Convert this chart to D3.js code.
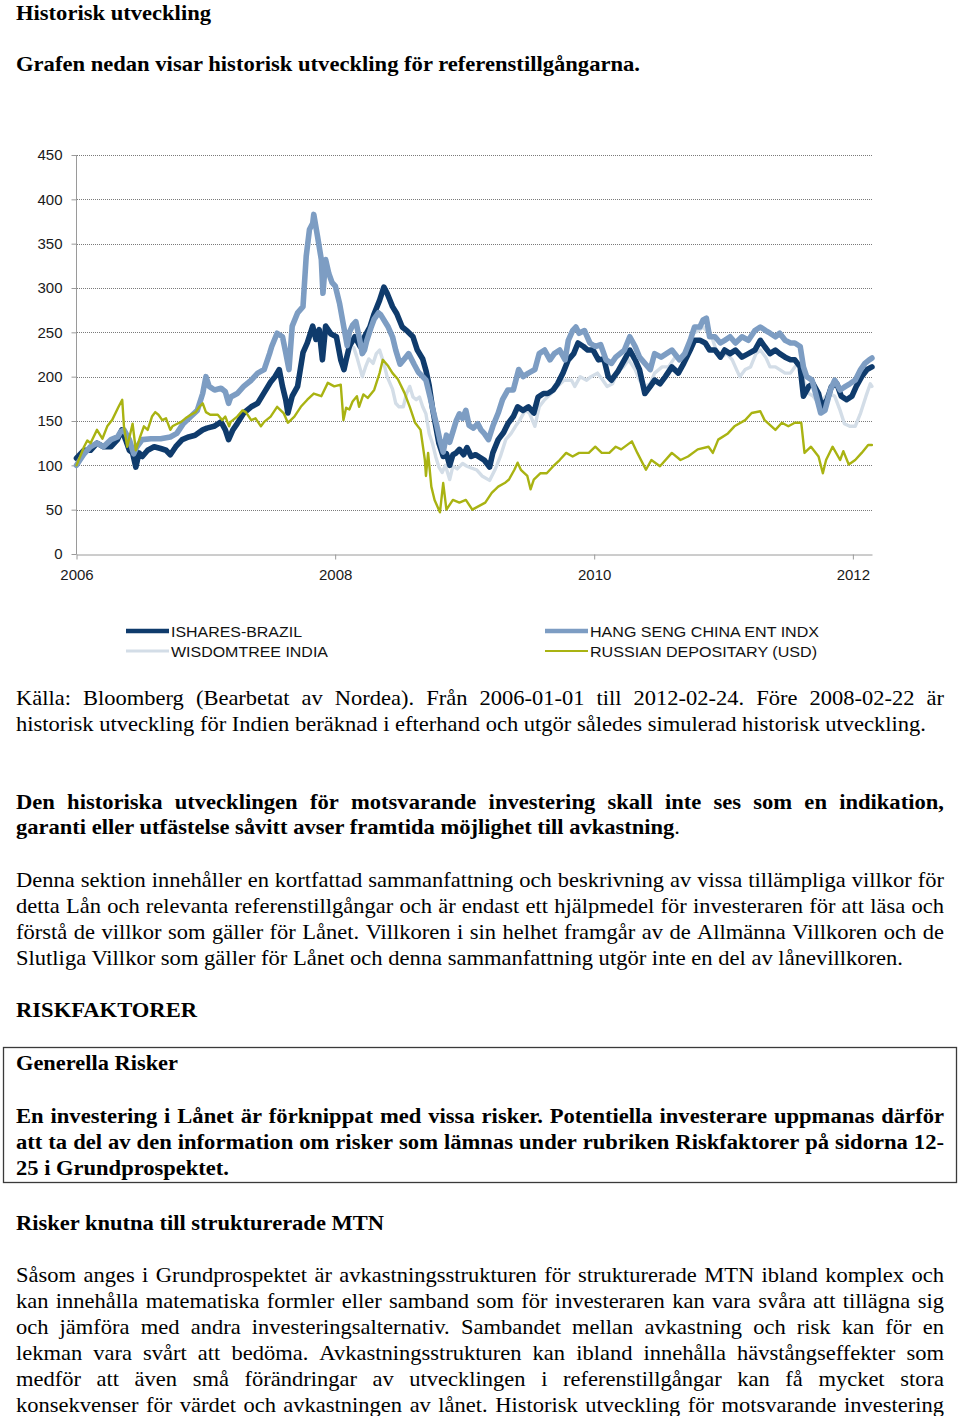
<!DOCTYPE html>
<html><head><meta charset="utf-8">
<script src="https://cdn.jsdelivr.net/npm/d3@7"></script>
<style>
html,body{margin:0;padding:0;background:#fff;}
svg{display:block;}
</style></head><body>
<svg id="page" width="960" height="1416"></svg>
<script>
// ---------------- DATA ----------------
// x values: months elapsed since 2006-01-01 ; y values: index level
const yearTickLabels = ["2006", "2008", "2010", "2012"];
const valueTicks = [0, 50, 100, 150, 200, 250, 300, 350, 400, 450];
const seriesNames = ["ISHARES-BRAZIL", "HANG SENG CHINA ENT INDX", "WISDOMTREE INDIA", "RUSSIAN DEPOSITARY (USD)"];
const startDate = "2006-01-01";
const endDate = "2012-02-24";

const brazil = [[0,108],[0.7,117],[1.3,117],[1.9,125],[2.5,121],[3.2,121],[3.8,129],[4.2,140],[4.55,129],[4.9,117],[5.2,114],[5.5,98],[5.8,114],[6.1,110],[6.6,117],[7.2,121],[7.8,119],[8.3,117],[8.7,112],[9.2,121],[9.8,129],[10.4,132],[11.0,134],[11.7,140],[12.1,142],[12.75,144],[13.4,149],[13.8,140],[14.1,129],[14.5,140],[14.9,147],[15.5,159],[16.2,166],[16.8,170],[17.4,182],[18.0,194],[18.4,200],[18.8,208],[19.1,189],[19.4,174],[19.6,159],[20.0,178],[20.5,189],[21.0,227],[21.4,238],[21.9,257],[22.2,242],[22.5,253],[22.8,219],[23.1,257],[23.6,248],[24.1,245],[24.5,219],[24.8,208],[25.0,219],[25.3,234],[25.8,245],[26.3,234],[26.7,245],[27.2,256],[27.6,271],[28.1,286],[28.5,301],[28.8,294],[29.3,279],[29.7,271],[30.2,256],[30.7,251],[31.2,245],[31.6,230],[32.1,220],[32.4,207],[32.7,190],[33.0,165],[33.3,145],[33.6,125],[34.0,110],[34.3,113],[34.6,100],[34.9,112],[35.2,114],[35.5,118],[35.9,112],[36.2,120],[36.6,110],[37.0,112],[37.4,109],[37.8,106],[38.3,98],[38.6,114],[39.1,129],[39.6,137],[40.0,147],[40.5,155],[40.9,166],[41.4,162],[41.9,166],[42.4,159],[42.8,177],[43.3,181],[43.7,181],[44.2,185],[44.6,192],[45.1,204],[45.6,219],[46.1,226],[46.5,238],[47.0,234],[47.4,230],[47.9,230],[48.4,219],[48.9,220],[49.3,200],[49.6,196],[50.2,206],[50.8,219],[51.3,230],[51.8,219],[52.2,208],[52.7,181],[53.2,189],[53.6,196],[54.1,192],[54.6,200],[55.2,211],[55.8,204],[56.3,215],[56.9,230],[57.3,241],[57.8,241],[58.3,238],[58.7,230],[59.2,230],[59.7,222],[60.1,230],[60.6,226],[61.1,230],[61.7,222],[62.3,226],[62.9,230],[63.4,241],[63.8,234],[64.3,226],[64.8,230],[65.2,226],[65.7,222],[66.2,219],[66.6,219],[67.1,211],[67.4,178],[67.9,189],[68.3,192],[68.8,181],[69.1,166],[69.6,174],[70.0,189],[70.5,192],[70.9,178],[71.4,174],[71.9,178],[72.3,189],[72.8,200],[73.3,208],[73.75,211]];

const hangSeng = [[0,100],[0.7,113],[1.3,121],[1.9,125],[2.5,121],[3.2,129],[3.8,132],[4.1,138],[4.4,140],[4.9,129],[5.3,113],[5.6,121],[6.1,129],[6.9,130],[7.8,130],[8.7,132],[9.3,136],[9.9,147],[10.6,155],[11.2,162],[11.7,181],[12.0,200],[12.3,189],[12.8,185],[13.4,187],[13.8,183],[14.1,170],[14.3,177],[14.9,181],[15.5,189],[16.2,196],[16.8,204],[17.4,208],[17.9,226],[18.1,234],[18.6,249],[19.1,245],[19.4,227],[19.7,208],[20.0,257],[20.5,272],[21.0,279],[21.3,336],[21.6,366],[21.9,373],[22.0,383],[22.35,358],[22.7,332],[22.85,294],[23.1,332],[23.4,316],[23.7,306],[24.0,302],[24.4,282],[24.8,255],[25.1,235],[25.3,250],[25.6,258],[25.9,262],[26.2,245],[26.5,226],[26.7,230],[26.9,240],[27.3,255],[27.6,265],[28.0,272],[28.2,270],[28.6,262],[28.9,256],[29.3,245],[29.6,230],[30.0,214],[30.4,220],[30.8,226],[31.3,214],[31.7,205],[32.1,200],[32.4,196],[32.8,176],[33.1,160],[33.4,145],[33.7,128],[34.0,115],[34.3,134],[34.6,126],[34.9,138],[35.2,150],[35.5,158],[35.8,153],[36.1,162],[36.4,145],[36.8,142],[37.2,147],[37.5,140],[37.8,136],[38.2,129],[38.6,144],[39.1,159],[39.5,174],[40.0,185],[40.5,185],[41.0,208],[41.4,200],[41.9,204],[42.5,208],[42.9,226],[43.4,230],[43.9,219],[44.3,226],[44.8,230],[45.3,219],[45.6,241],[46.0,252],[46.3,256],[46.6,249],[47.1,252],[47.6,238],[48.1,234],[48.6,236],[49.1,219],[49.6,215],[50.0,222],[50.8,230],[51.3,245],[51.8,234],[52.2,222],[52.7,215],[53.2,208],[53.6,226],[54.2,222],[54.7,226],[55.2,230],[55.9,219],[56.4,226],[56.9,241],[57.3,256],[57.8,256],[58.1,264],[58.4,266],[58.7,245],[59.2,245],[59.7,238],[60.1,241],[60.6,245],[61.1,238],[61.7,245],[62.3,241],[62.9,252],[63.4,256],[63.9,252],[64.3,249],[64.8,245],[65.2,249],[65.7,241],[66.2,238],[66.6,238],[67.1,234],[67.4,211],[67.7,200],[68.2,196],[68.6,178],[69.0,159],[69.4,162],[69.9,185],[70.3,196],[70.8,185],[71.3,189],[71.7,192],[72.2,196],[72.7,208],[73.1,215],[73.5,219],[73.75,221]];

const india = [[25.7,233],[26.0,222],[26.5,200],[26.8,211],[27.1,220],[27.5,215],[27.8,226],[28.1,230],[28.5,215],[28.8,200],[29.3,186],[29.6,170],[29.9,166],[30.3,166],[30.6,181],[30.9,189],[31.2,177],[31.5,174],[31.8,177],[32.1,166],[32.4,158],[32.7,136],[33.0,125],[33.3,110],[33.6,98],[33.9,92],[34.2,100],[34.6,84],[34.9,99],[35.3,96],[35.8,102],[36.2,99],[36.6,97],[37.1,95],[37.6,88],[38.3,83],[38.8,95],[39.3,110],[39.8,129],[40.3,136],[40.7,144],[41.1,151],[41.6,162],[42.0,159],[42.5,144],[42.9,166],[43.4,174],[44.0,181],[44.6,189],[45.2,196],[45.9,196],[46.2,189],[46.7,200],[47.3,196],[47.7,200],[48.3,204],[48.8,196],[49.2,189],[49.7,192],[50.2,206],[50.7,211],[51.2,219],[51.8,208],[52.2,196],[52.7,189],[53.2,192],[53.6,204],[54.3,211],[54.9,211],[55.5,222],[56.1,219],[56.7,234],[57.2,249],[57.7,252],[58.1,256],[58.4,252],[58.9,245],[59.3,230],[59.8,222],[60.3,226],[60.8,219],[61.2,208],[61.5,200],[62.0,208],[62.5,211],[63.0,226],[63.4,230],[63.9,222],[64.3,211],[64.8,211],[65.2,208],[65.7,204],[66.2,204],[66.6,211],[67.1,215],[67.4,196],[67.9,181],[68.3,178],[68.8,170],[69.2,174],[69.7,181],[70.3,178],[70.8,162],[71.2,147],[71.7,144],[72.2,144],[72.7,159],[73.2,178],[73.6,192],[73.75,189]];

const russia = [[0,100],[0.7,121],[1.0,128],[1.3,125],[1.9,140],[2.4,130],[2.85,144],[3.3,151],[3.9,166],[4.24,174],[4.4,144],[4.7,121],[5.2,147],[5.5,117],[5.9,132],[6.25,144],[6.6,140],[7.0,155],[7.3,160],[7.6,157],[7.95,151],[8.3,153],[8.7,140],[8.9,144],[9.2,146],[9.7,149],[10.1,153],[10.6,157],[11.05,160],[11.4,166],[11.7,170],[12.0,160],[12.4,157],[13.1,157],[13.5,151],[13.8,155],[14.15,144],[14.3,149],[14.9,155],[15.4,162],[15.7,160],[16.2,151],[16.6,153],[17.1,144],[17.4,149],[18.0,155],[18.6,166],[19.2,159],[19.6,148],[20.2,155],[20.8,166],[21.4,174],[22.0,181],[22.7,178],[23.3,193],[23.9,189],[24.5,191],[24.75,151],[25.0,165],[25.3,163],[25.6,172],[26.0,178],[26.2,166],[26.6,180],[27.0,176],[27.6,185],[28.1,204],[28.4,219],[28.9,212],[29.3,204],[29.8,197],[30.4,182],[30.9,166],[31.4,148],[31.9,140],[32.3,106],[32.4,88],[32.6,114],[32.9,76],[33.2,61],[33.7,47],[34.0,80],[34.3,50],[34.9,61],[35.5,58],[36.1,61],[36.7,50],[37.3,54],[37.9,58],[38.5,69],[39.1,76],[39.7,80],[40.1,84],[40.6,95],[40.9,103],[41.2,95],[41.8,88],[42.1,73],[42.4,84],[43.0,91],[43.6,91],[44.2,99],[44.8,106],[45.4,114],[46.0,110],[46.6,114],[47.5,114],[48.1,121],[48.7,114],[49.4,114],[50.0,121],[50.5,118],[51.5,127],[52.0,114],[52.8,95],[53.3,106],[54.1,99],[55.2,114],[56.0,106],[56.7,110],[57.6,118],[58.6,121],[59.0,114],[59.5,129],[60.4,136],[61.0,144],[62.0,151],[62.6,159],[63.4,161],[63.8,151],[64.8,140],[65.4,148],[66.0,144],[66.6,148],[67.2,148],[67.5,114],[68.1,121],[68.8,110],[69.2,91],[69.5,106],[70.1,121],[70.8,106],[71.1,116],[71.6,101],[72.2,106],[72.8,114],[73.4,123],[73.75,123]];

// ---------------- TEXT CONTENT ----------------
const textLines = [
  {t:"Historisk utveckling", y:20, w:195, b:true},
  {t:"Grafen nedan visar historisk utveckling för referenstillgångarna.", y:71, w:624, b:true},
  {t:"Källa: Bloomberg (Bearbetat av Nordea). Från 2006-01-01 till 2012-02-24. Före 2008-02-22 är", y:705, w:928, j:true},
  {t:"historisk utveckling för Indien beräknad i efterhand och utgör således simulerad historisk utveckling.", y:731, w:910},
  {t:"Den historiska utvecklingen för motsvarande investering skall inte ses som en indikation,", y:808.5, w:928, b:true, j:true},
  {t:"garanti eller utfästelse såvitt avser framtida möjlighet till avkastning", tail:".", y:834, w:664, b:true},
  {t:"Denna sektion innehåller en kortfattad sammanfattning och beskrivning av vissa tillämpliga villkor för", y:887, w:928, j:true},
  {t:"detta Lån och relevanta referenstillgångar och är endast ett hjälpmedel för investeraren för att läsa och", y:913, w:928, j:true},
  {t:"förstå de villkor som gäller för Lånet. Villkoren i sin helhet framgår av de Allmänna Villkoren och de", y:939, w:928, j:true},
  {t:"Slutliga Villkor som gäller för Lånet och denna sammanfattning utgör inte en del av lånevillkoren.", y:964.5, w:887},
  {t:"RISKFAKTORER", y:1016.5, w:181, b:true},
  {t:"Generella Risker", y:1070, w:162, b:true},
  {t:"En investering i Lånet är förknippat med vissa risker. Potentiella investerare uppmanas därför", y:1123, w:928, b:true, j:true},
  {t:"att ta del av den information om risker som lämnas under rubriken Riskfaktorer på sidorna 12-", y:1149, w:928, b:true, j:true},
  {t:"25 i Grundprospektet.", y:1175, w:213, b:true},
  {t:"Risker knutna till strukturerade MTN", y:1229.5, w:368, b:true},
  {t:"Såsom anges i Grundprospektet är avkastningsstrukturen för strukturerade MTN ibland komplex och", y:1281.5, w:928, j:true},
  {t:"kan innehålla matematiska formler eller samband som för investeraren kan vara svåra att tillägna sig", y:1307.5, w:928, j:true},
  {t:"och jämföra med andra investeringsalternativ. Sambandet mellan avkastning och risk kan för en", y:1333.5, w:928, j:true},
  {t:"lekman vara svårt att bedöma. Avkastningsstrukturen kan ibland innehålla hävstångseffekter som", y:1359.5, w:928, j:true},
  {t:"medför att även små förändringar av utvecklingen i referenstillgångar kan få mycket stora", y:1385.5, w:928, j:true},
  {t:"konsekvenser för värdet och avkastningen av lånet. Historisk utveckling för motsvarande investering", y:1411.5, w:928, j:true}
];

// ---------------- RENDER ----------------
const svg = d3.select("#page");
const SERIF = "'Liberation Serif','Times New Roman',serif";
const SANS = "'Liberation Sans',Arial,Helvetica,sans-serif";
const FS = 21.5;
const LEFT = 16;

const tmp = svg.append("text").attr("font-family", SERIF).attr("font-size", FS).attr("x", -1000).attr("y", -1000);
function measure(s, bold) {
  tmp.attr("font-weight", bold ? "bold" : "normal").text(s);
  return tmp.node().getComputedTextLength();
}
const kReg = 910 / measure(textLines[3].t, false);
const kBold = 624 / measure(textLines[1].t, true);

textLines.forEach(L => {
  if (L.j) {
    const k = L.b ? kBold : kReg;
    const words = L.t.split(" ");
    const ws = words.map(w => measure(w, L.b));
    const total = d3.sum(ws);
    const gap = (L.w / k - total) / (words.length - 1);
    const g = svg.append("g").attr("transform", `translate(${LEFT},${L.y}) scale(${k},1)`);
    let x = 0;
    words.forEach((w, i) => {
      g.append("text").attr("x", x).attr("y", 0)
        .attr("font-family", SERIF).attr("font-size", FS)
        .attr("font-weight", L.b ? "bold" : "normal").attr("fill", "#000").text(w);
      x += ws[i] + gap;
    });
  } else {
    const t = svg.append("text").attr("x", LEFT).attr("y", L.y)
      .attr("font-family", SERIF).attr("font-size", FS)
      .attr("font-weight", L.b ? "bold" : "normal").attr("fill", "#000")
      .attr("textLength", L.w).attr("lengthAdjust", "spacingAndGlyphs");
    t.append("tspan").text(L.t);
    if (L.tail) t.append("tspan").attr("font-weight", "normal").text(L.tail);
  }
});
tmp.remove();

// box around "Generella Risker"
svg.append("rect").attr("x", 3.5).attr("y", 1047.5).attr("width", 953).attr("height", 135)
  .attr("fill", "none").attr("stroke", "#3a3a3a").attr("stroke-width", 1.3);

// ---- chart ----
const parse = d3.utcParse("%Y-%m-%d");
const t0 = parse(startDate), t1 = parse(endDate);
const DAY = 864e5;
const toDate = m => new Date(t0.getTime() + m * 30.4375 * DAY);

const x = d3.scaleUtc().domain([t0, t1]).range([76.5, 872]);
const y = d3.scaleLinear().domain([0, 450]).range([554, 155]);

const chart = svg.append("g");

// gridlines
chart.append("g").selectAll("line").data(valueTicks.filter(v => v > 0)).join("line")
  .attr("x1", 77).attr("x2", 872)
  .attr("y1", d => Math.round(y(d)) + 0.5).attr("y2", d => Math.round(y(d)) + 0.5)
  .attr("stroke", "#7a7a7a").attr("stroke-width", 1).attr("stroke-dasharray", "1,1");

// axes
const yAxis = d3.axisLeft(y).tickValues(valueTicks).tickSize(5).tickSizeOuter(0).tickPadding(9);
const yearDates = yearTickLabels.map(s => d3.utcParse("%Y")(s));
const xAxis = d3.axisBottom(x).tickValues(yearDates).tickFormat(d3.utcFormat("%Y")).tickSize(5).tickSizeOuter(0).tickPadding(10);

const gy = chart.append("g").attr("transform", "translate(76.5,0)").call(yAxis);
const gx = chart.append("g").attr("transform", "translate(0,554.5)").call(xAxis);
[gy, gx].forEach(g => {
  g.select(".domain").attr("stroke", "#9a9a9a").attr("stroke-width", 1);
  g.selectAll(".tick line").attr("stroke", "#9a9a9a");
  g.selectAll(".tick text").attr("font-family", SANS).attr("font-size", 15).attr("fill", "#1a1a1a");
});
gy.select(".domain").attr("d", `M0,${y(450)}V${y(0) + 0.5}`);

// lines
const line = d3.line().x(d => x(toDate(d[0]))).y(d => y(d[1]));
const series = [
  {name: seriesNames[2], data: india, color: "#d3dde7", width: 3.4},
  {name: seriesNames[0], data: brazil, color: "#0f3b6c", width: 5.6},
  {name: seriesNames[1], data: hangSeng, color: "#7d9dc3", width: 5.6},
  {name: seriesNames[3], data: russia, color: "#a9b312", width: 2.4}
];
chart.append("g").selectAll("path").data(series).join("path")
  .attr("d", d => line(d.data))
  .attr("fill", "none").attr("stroke", d => d.color).attr("stroke-width", d => d.width)
  .attr("stroke-linejoin", "round").attr("stroke-linecap", "round");

// legend
const legendItems = [
  {name: seriesNames[0], color: "#0f3b6c", width: 4.5, x: 126, y: 631, tw: 131},
  {name: seriesNames[1], color: "#7d9dc3", width: 4.5, x: 545, y: 631, tw: 229},
  {name: seriesNames[2], color: "#d3dde7", width: 3, x: 126, y: 651, tw: 157},
  {name: seriesNames[3], color: "#a9b312", width: 2.2, x: 545, y: 651, tw: 227}
];
const lg = svg.append("g").selectAll("g").data(legendItems).join("g");
lg.append("line").attr("x1", d => d.x).attr("x2", d => d.x + 43)
  .attr("y1", d => d.y).attr("y2", d => d.y)
  .attr("stroke", d => d.color).attr("stroke-width", d => d.width);
lg.append("text").attr("x", d => d.x + 45).attr("y", d => d.y + 5.5)
  .attr("font-family", SANS).attr("font-size", 15).attr("fill", "#111")
  .attr("textLength", d => d.tw).attr("lengthAdjust", "spacingAndGlyphs")
  .text(d => d.name);
</script>
</body></html>
